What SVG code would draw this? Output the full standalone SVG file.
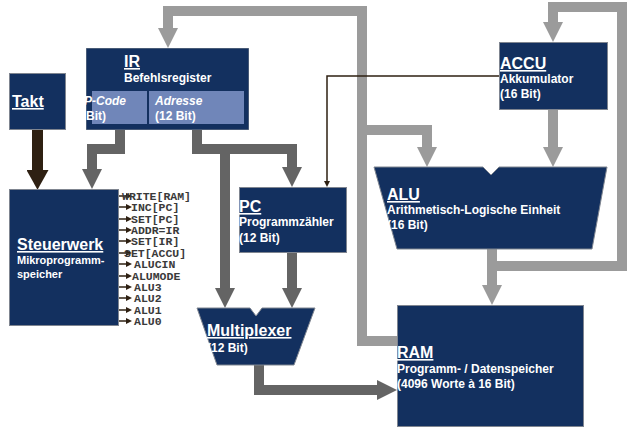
<svg xmlns="http://www.w3.org/2000/svg" width="634" height="429" viewBox="0 0 634 429">
<style>
.box{fill:#13305f;stroke:#7f8590;stroke-width:1}
.sub{fill:#7086b9}
.t{font-family:"Liberation Sans",Arial,sans-serif;font-weight:bold;fill:#fff}
.h{font-size:16px;text-decoration:underline}
.s{font-size:12px}
.lt{fill:none;stroke:#9b9b9b;stroke-width:10}
.dk{fill:none;stroke:#646464;stroke-width:10}
.sig{font-family:"Liberation Mono","Courier New",monospace;font-weight:bold;font-size:11.5px;fill:#3a3a3a}
.sl{fill:none;stroke:#2e2012;stroke-width:1.5}
</style>
<defs>
<marker id="ahL" viewBox="0 0 2 2" refX="0" refY="1" markerWidth="2" markerHeight="2" markerUnits="strokeWidth" orient="auto"><path d="M0,0L2,1L0,2z" fill="#9b9b9b"/></marker>
<marker id="ahD" viewBox="0 0 2 2" refX="0" refY="1" markerWidth="2" markerHeight="2" markerUnits="strokeWidth" orient="auto"><path d="M0,0L2,1L0,2z" fill="#646464"/></marker>
<marker id="ahB" viewBox="0 0 2 2" refX="0" refY="1" markerWidth="2" markerHeight="2" markerUnits="strokeWidth" orient="auto"><path d="M0,0L1.8,1L0,2z" fill="#2e2012"/></marker>
<marker id="sm" viewBox="0 0 6 6" refX="0" refY="3" markerWidth="6" markerHeight="6" markerUnits="userSpaceOnUse" orient="auto"><path d="M0,0L6,3L0,6z" fill="#2e2012"/></marker>
<clipPath id="irclip"><rect x="86" y="48" width="163" height="82"/></clipPath>
</defs>

<g id="connectors">
<path class="lt" d="M492,249V285" marker-end="url(#ahL)"/>
<path class="lt" d="M492,266H622V7H553V22" marker-end="url(#ahL)"/>
<path class="lt" d="M553,110V147" marker-end="url(#ahL)"/>
<path class="lt" d="M397,341H362V11H168V28" marker-end="url(#ahL)"/>
<path class="lt" d="M362,130H427V147" marker-end="url(#ahL)"/>
<path class="dk" d="M120,130V149H92V169" marker-end="url(#ahD)"/>
<path class="dk" d="M197,130V149H292V167" marker-end="url(#ahD)"/>
<path class="dk" d="M225,149V288" marker-end="url(#ahD)"/>
<path class="dk" d="M292,252V288" marker-end="url(#ahD)"/>
<path class="dk" d="M259,365V390H377" marker-end="url(#ahD)"/>
<path fill="none" stroke="#2e2012" stroke-width="11" d="M37.5,130V170" marker-end="url(#ahB)"/>
<path class="sl" d="M499,76H327V181" marker-end="url(#sm)"/>
<g id="signals">
<path class="sl" d="M119,196H126" marker-end="url(#sm)"/>
<path class="sl" d="M119,207H126" marker-end="url(#sm)"/>
<path class="sl" d="M119,219H126" marker-end="url(#sm)"/>
<path class="sl" d="M119,230H126" marker-end="url(#sm)"/>
<path class="sl" d="M119,241H126" marker-end="url(#sm)"/>
<path class="sl" d="M119,253H126" marker-end="url(#sm)"/>
<path class="sl" d="M119,264H126" marker-end="url(#sm)"/>
<path class="sl" d="M119,276H126" marker-end="url(#sm)"/>
<path class="sl" d="M119,287H126" marker-end="url(#sm)"/>
<path class="sl" d="M119,298H126" marker-end="url(#sm)"/>
<path class="sl" d="M119,310H126" marker-end="url(#sm)"/>
<path class="sl" d="M119,321H126" marker-end="url(#sm)"/>
<text class="sig" x="122" y="200">WRITE[RAM]</text>
<text class="sig" x="131" y="211">INC[PC]</text>
<text class="sig" x="131" y="223">SET[PC]</text>
<text class="sig" x="131" y="234">ADDR=IR</text>
<text class="sig" x="131" y="245">SET[IR]</text>
<text class="sig" x="124" y="257">SET[ACCU]</text>
<text class="sig" x="134" y="268">ALUCIN</text>
<text class="sig" x="132" y="280">ALUMODE</text>
<text class="sig" x="134" y="291">ALU3</text>
<text class="sig" x="134" y="302">ALU2</text>
<text class="sig" x="134" y="314">ALU1</text>
<text class="sig" x="134" y="325">ALU0</text>
</g>
</g>

<g id="takt">
<rect class="box" x="9.5" y="73.5" width="56" height="56"/>
<text class="t h" x="12" y="107">Takt</text>
</g>

<g id="ir" clip-path="url(#irclip)">
<rect class="box" x="86" y="48" width="163" height="82"/>
<rect class="sub" x="92" y="91" width="55" height="33"/>
<rect class="sub" x="149" y="91" width="95" height="33"/>
<text class="t h" x="124" y="67">IR</text>
<text class="t s" x="124" y="82">Befehlsregister</text>
<text class="t s" x="84" y="105" font-style="italic">P-Code</text>
<text class="t s" x="72" y="120">(4 Bit)</text>
<text class="t s" x="155" y="105" font-style="italic">Adresse</text>
<text class="t s" x="155" y="120">(12 Bit)</text>
</g>

<g id="steuerwerk">
<rect class="box" x="9.5" y="189.5" width="109" height="136"/>
<text class="t h" x="17" y="250">Steuerwerk</text>
<text class="t" font-size="11" x="17" y="264">Mikroprogramm-</text>
<text class="t" font-size="11" x="17" y="278">speicher</text>
</g>

<g id="pc">
<rect class="box" x="239.5" y="187.5" width="107" height="65"/>
<text class="t h" x="239" y="212">PC</text>
<text class="t s" x="239" y="226">Programmzähler</text>
<text class="t s" x="239" y="242">(12 Bit)</text>
</g>

<g id="multiplexer">
<path class="box" d="M197,308H250L256,316L262,308H315L294,365H217Z"/>
<text class="t h" x="207" y="336">Multiplexer</text>
<text class="t s" x="207" y="352">(12 Bit)</text>
</g>

<g id="accu">
<rect class="box" x="499.5" y="42.5" width="108" height="67"/>
<text class="t h" x="500" y="69">ACCU</text>
<text class="t s" x="500" y="83">Akkumulator</text>
<text class="t s" x="500" y="98">(16 Bit)</text>
</g>

<g id="alu">
<path class="box" d="M374,167H483L491,175L499,167H607L592,249H397Z"/>
<text class="t h" x="387" y="200">ALU</text>
<text class="t s" x="387" y="214">Arithmetisch-Logische Einheit</text>
<text class="t s" x="387" y="229">(16 Bit)</text>
</g>

<g id="ram">
<rect class="box" x="397.5" y="305.5" width="186" height="121"/>
<text class="t h" x="397" y="358">RAM</text>
<text class="t s" x="397" y="373">Programm- / Datenspeicher</text>
<text class="t s" x="397" y="388">(4096 Worte à 16 Bit)</text>
</g>
</svg>
